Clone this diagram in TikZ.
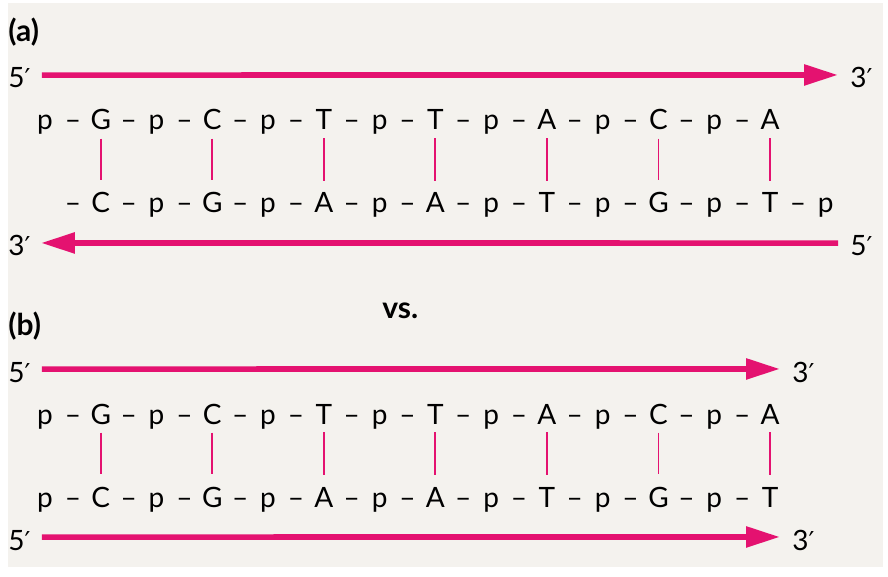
\documentclass[tikz,border=0pt]{standalone}
\usepackage{fontspec}
\setmainfont{Lato}
\newfontfamily\primefont{DejaVu Sans}
\newcommand{\pr}{{\primefont\fontsize{13}{15}\selectfont ′}}
\usetikzlibrary{arrows.meta,positioning}
\definecolor{strandpink}{RGB}{228,18,112}
\definecolor{panelgrey}{RGB}{244,242,238}
\tikzset{
    strand/.style={line width=2.8pt, strandpink},
    strandtip/.style={-{Triangle[length=17pt, width=10pt]}},
    hbond/.style={line width=0.9pt, strandpink, shorten <=4pt, shorten >=6pt},
    base/.style={inner sep=0pt, anchor=base, font=\fontsize{14}{16}\selectfont},
    endlabel/.style={inner sep=0pt, anchor=base west, font=\fontsize{14}{16}\selectfont},
    panellabel/.style={inner sep=0pt, anchor=base west, font=\fontsize{15}{17}\selectfont\bfseries}
}

\begin{document}
\begin{tikzpicture}[x=0.5pt, y=-0.5pt]
    \useasboundingbox (0, 0) rectangle (888, 577);
    \fill[panelgrey] (8, 3) rectangle (883, 567);
    \begin{scope}[shift={(0, 0)}]
        \node[panellabel] (labela) at (8, 42) {(a)};
        \node[endlabel] (a5top) at (8, 88) {5\pr};
        \node[endlabel] (a3top) at (850, 88) {3\pr};
        \node[endlabel] (a3bot) at (8, 256) {3\pr};
        \node[endlabel] (a5bot) at (850, 256) {5\pr};
        \foreach \s [count=\k from 0] in {p,G,p,C,p,T,p,T,p,A,p,C,p,A}
            \node[base] (at\k) at ({45+55.77*\k}, 130) {\s};
        \foreach \k in {0,...,12}
            \node[base] (atd\k) at ({72.9+55.77*\k}, 130) {–};
        \foreach \s [count=\k from 1] in {C,p,G,p,A,p,A,p,T,p,G,p,T,p}
            \node[base] (ab\k) at ({45+55.77*\k}, 213) {\s};
        \foreach \k in {0,...,13}
            \node[base] (abd\k) at ({72.9+55.77*\k}, 213) {–};
        \foreach \k in {1,3,...,13}
            \draw[hbond] (at\k) -- (ab\k);
        \draw[strand, strandtip] ([xshift=5.5pt, yshift=1.5pt]a5top.east) -- ([xshift=-6pt, yshift=1.5pt]a3top.west);
        \draw[strand, strandtip] ([xshift=-6pt, yshift=1.5pt]a5bot.west) -- ([xshift=5pt, yshift=1.5pt]a3bot.east);
    \end{scope}
    \node[panellabel] (versus) at (382, 318) {vs.};
    \begin{scope}[shift={(0, 294)}]
        \node[panellabel] (labelb) at (8, 41) {(b)};
        \node[endlabel] (b5top) at (8, 88) {5\pr};
        \node[endlabel] (b3top) at (792, 88) {3\pr};
        \node[endlabel] (b5bot) at (8, 256) {5\pr};
        \node[endlabel] (b3bot) at (792, 256) {3\pr};
        \foreach \s [count=\k from 0] in {p,G,p,C,p,T,p,T,p,A,p,C,p,A}
            \node[base] (bt\k) at ({45+55.77*\k}, 130) {\s};
        \foreach \k in {0,...,12}
            \node[base] (btd\k) at ({72.9+55.77*\k}, 130) {–};
        \foreach \s [count=\k from 0] in {p,C,p,G,p,A,p,A,p,T,p,G,p,T}
            \node[base] (bb\k) at ({45+55.77*\k}, 213) {\s};
        \foreach \k in {0,...,12}
            \node[base] (bbd\k) at ({72.9+55.77*\k}, 213) {–};
        \foreach \k in {1,3,...,13}
            \draw[hbond] (bt\k) -- (bb\k);
        \draw[strand, strandtip] ([xshift=5.5pt, yshift=1.5pt]b5top.east) -- ([xshift=-6pt, yshift=1.5pt]b3top.west);
        \draw[strand, strandtip] ([xshift=5.5pt, yshift=1.5pt]b5bot.east) -- ([xshift=-6pt, yshift=1.5pt]b3bot.west);
    \end{scope}
\end{tikzpicture}
\end{document}
